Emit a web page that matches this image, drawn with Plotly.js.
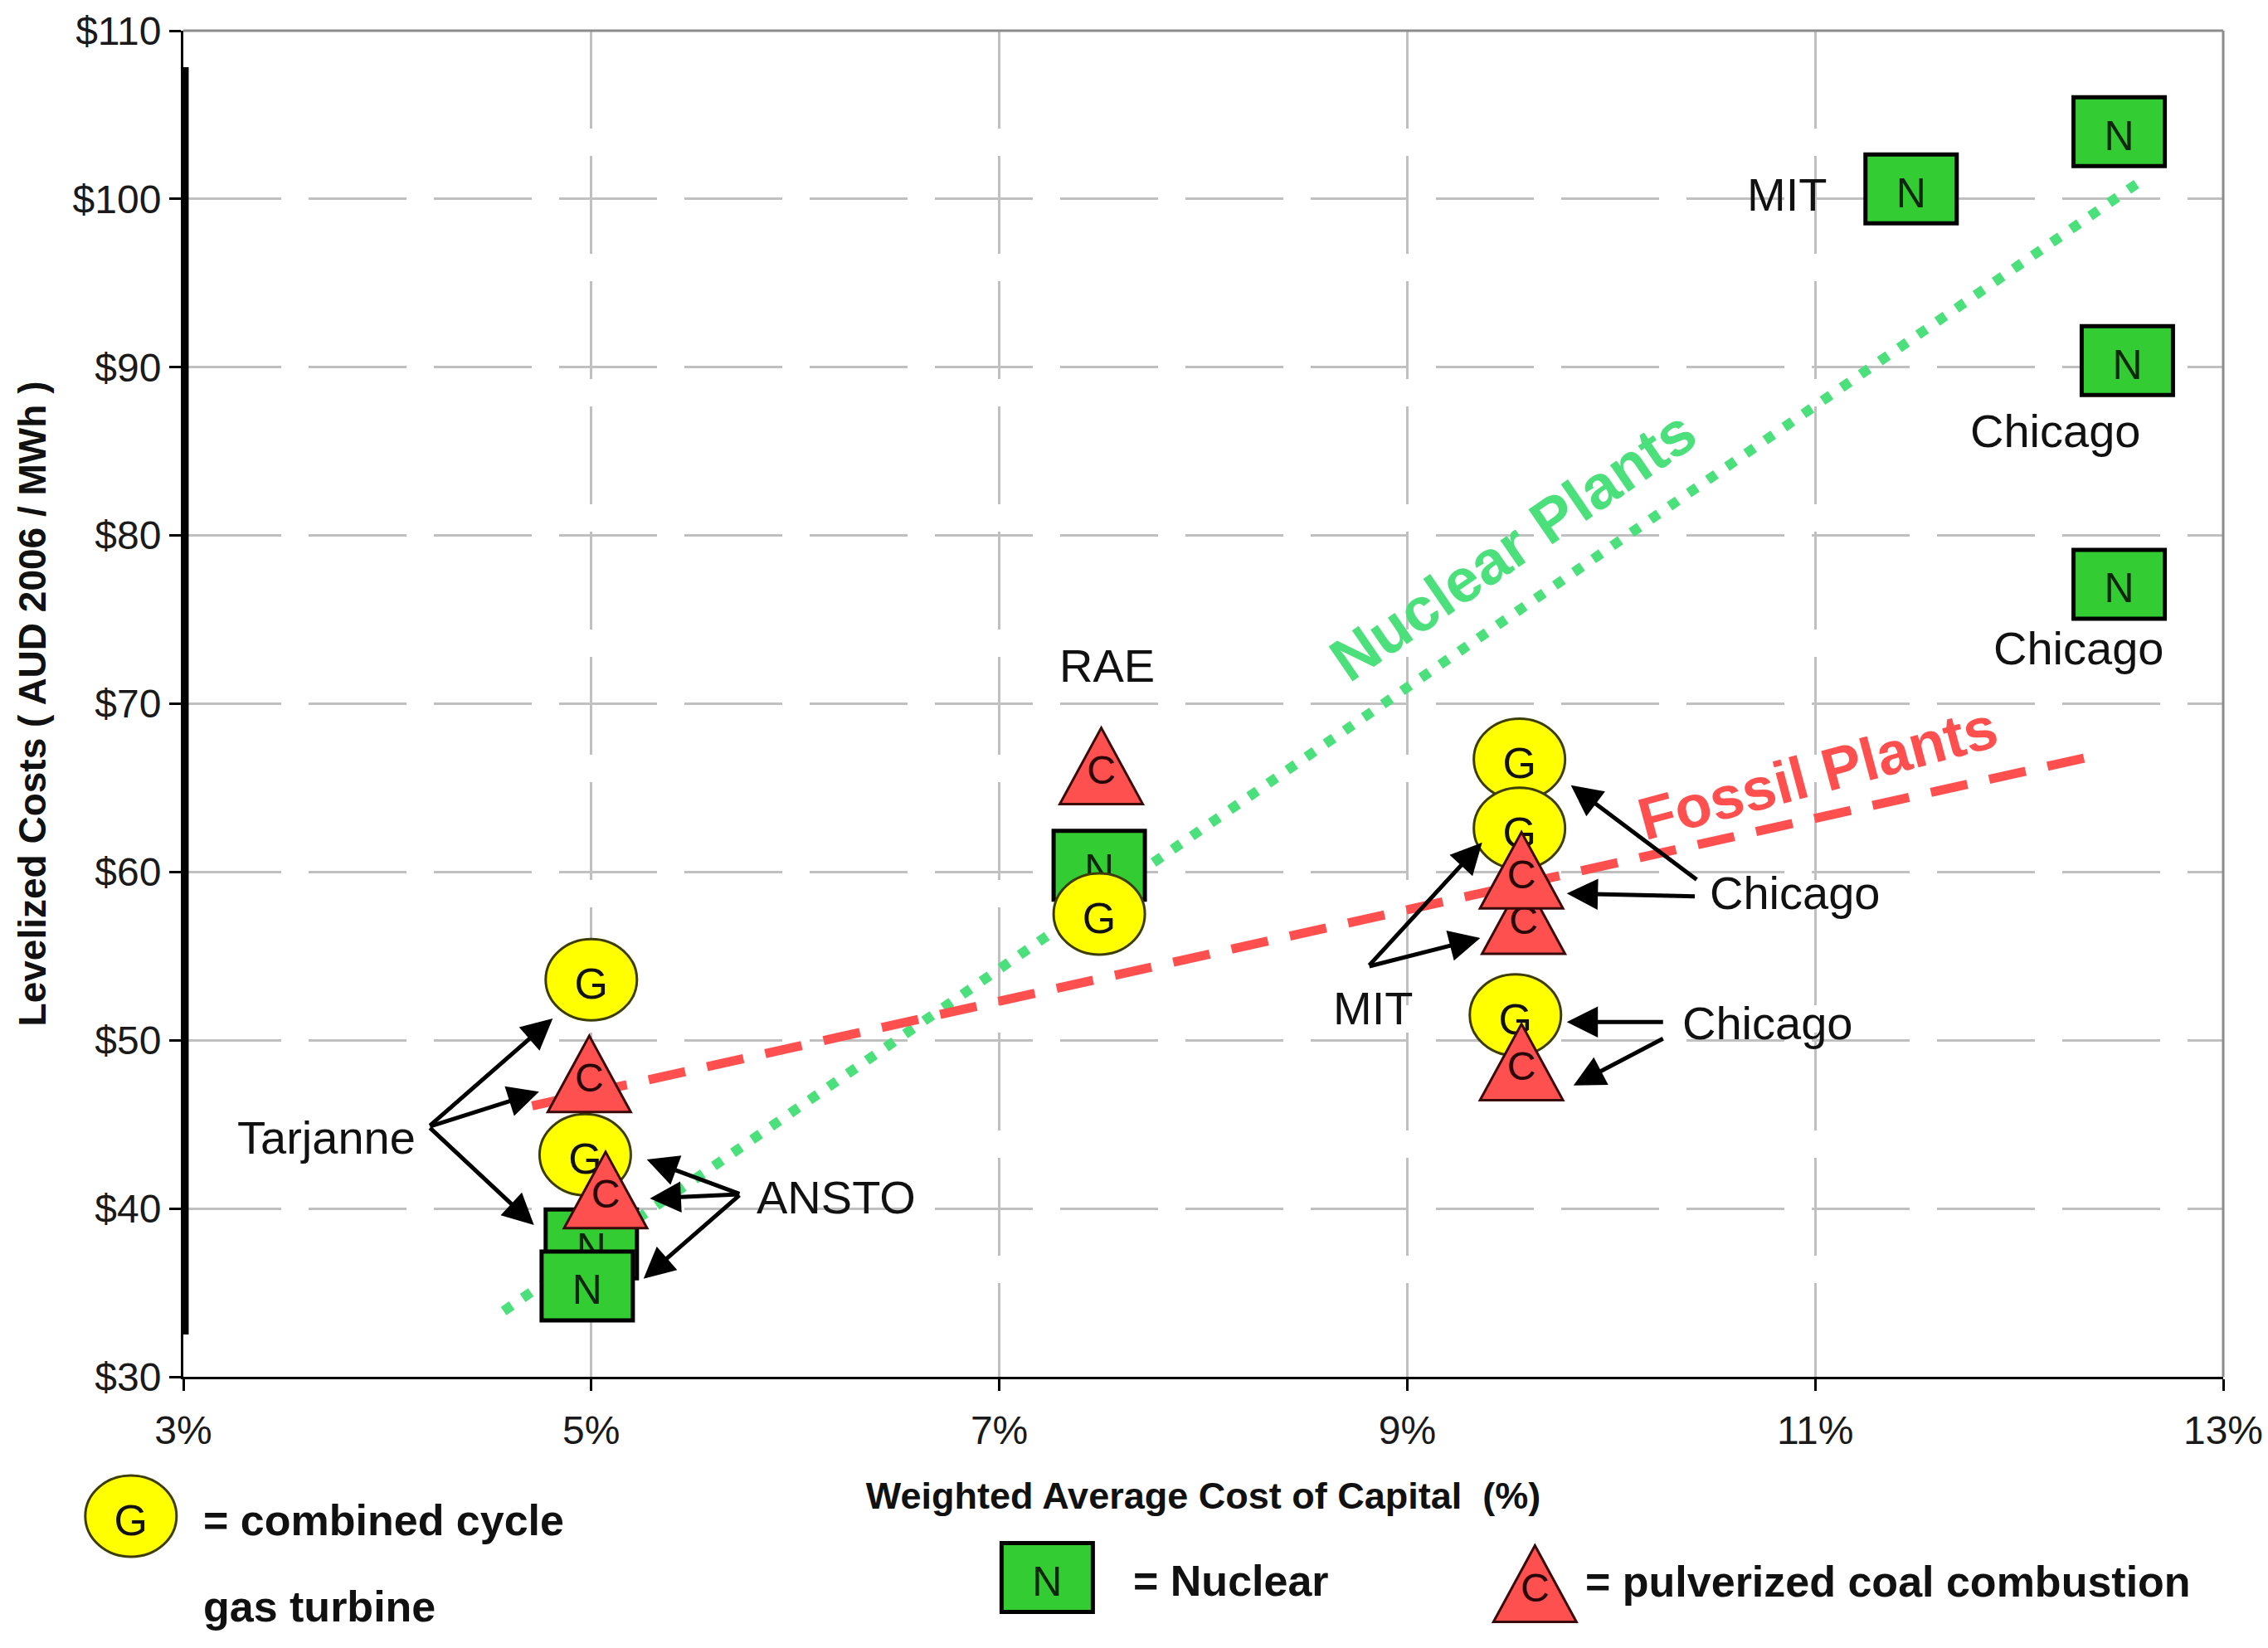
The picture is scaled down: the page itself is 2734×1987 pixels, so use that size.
<!DOCTYPE html>
<html><head><meta charset="utf-8">
<script src="https://cdn.plot.ly/plotly-3.0.1.min.js"></script>
<style>html,body{margin:0;padding:0;background:#fff;} #chart{width:2734px;height:1987px;}</style>
</head><body><div id="chart"></div>
<script>
// ---------------- data ----------------
// Combined cycle gas turbine (G)
const gasX = [5.00, 4.97, 7.49, 9.55, 9.55, 9.53];
const gasY = [53.6, 43.2, 57.5, 66.7, 62.6, 51.5];
// Nuclear (N)
const nucX = [5.00, 4.98, 7.49, 11.47, 12.49, 12.53, 12.49];
const nucY = [37.9, 35.4, 60.4, 100.6, 104.0, 90.4, 77.1];
// Pulverized coal combustion (C)
const coalX = [4.99, 5.07, 7.50, 9.57, 9.56, 9.56];
const coalY = [48.0, 41.1, 66.3, 57.4, 60.1, 48.7];
// Trend lines
const nuclearTrendX = [4.57, 12.60];
const nuclearTrendY = [33.9, 101.1];
const fossilTrendX = [4.71, 12.33];
const fossilTrendY = [46.1, 66.8];
// Axis ticks
const xTicks = [3, 5, 7, 9, 11, 13];
const xTickText = ['3%', '5%', '7%', '9%', '11%', '13%'];
const yTicks = [30, 40, 50, 60, 70, 80, 90, 100, 110];
const yTickText = ['$30', '$40', '$50', '$60', '$70', '$80', '$90', '$100', '$110'];
// Source labels
const sourceNames = ['Tarjanne', 'ANSTO', 'RAE', 'MIT', 'Chicago', 'Chicago', 'MIT', 'Chicago', 'Chicago'];
const sourceX = [3.701, 6.201, 7.529, 8.830, 10.898, 10.764, 10.860, 12.175, 12.290];
const sourceY = [44.2, 40.65, 72.25, 51.89, 58.75, 51.04, 100.25, 86.24, 73.3];
// Arrows from source labels to points
const arrowTailX = [4.203, 4.203, 4.203, 5.732, 5.732, 5.732, 8.808, 8.808, 10.425, 10.416, 10.26, 10.26];
const arrowTailY = [44.86, 44.86, 44.86, 40.85, 40.85, 40.85, 54.38, 54.38, 59.49, 58.55, 51.08, 50.14];
const arrowHeadX = [4.811, 4.744, 4.719, 5.272, 5.287, 5.256, 9.367, 9.358, 9.802, 9.782, 9.782, 9.815];
const arrowHeadY = [51.3, 46.94, 39.02, 42.92, 40.60, 35.83, 61.75, 56.08, 65.16, 58.72, 51.08, 47.31];
// Trend labels
const trendLabels = ['Nuclear Plants', 'Fossil Plants'];
const trendLabelX = [9.52, 11.01];
const trendLabelY = [79.4, 65.9];

// ---------------- styling ----------------
const FONT = 'Liberation Sans, Arial, Helvetica, sans-serif';
const GREEN_LINE = '#4be07b';
const RED_LINE = '#ff4f4f';
const N_FILL = '#33cc33';
const G_FILL = '#ffff00';
const C_FILL = '#ff5050';

function ellipsePath(rx, ry) {
  const k = 0.5523, kx = rx * k, ky = ry * k;
  return `M${rx},0 C${rx},${ky} ${kx},${ry} 0,${ry} C${-kx},${ry} ${-rx},${ky} ${-rx},0 ` +
         `C${-rx},${-ky} ${-kx},${-ry} 0,${-ry} C${kx},${-ry} ${rx},${-ky} ${rx},0 Z`;
}
function rectPath(w, h) { return `M${-w/2},${-h/2} H${w/2} V${h/2} H${-w/2} Z`; }
function triPath(w, h) { return `M${-w/2},${-h/2} L${w/2},${-h/2} L0,${h/2} Z`; }

function markerShape(kind, x, y, ref) {
  const base = {
    type: 'path', layer: 'above',
    xref: ref ? 'paper' : 'x', yref: ref ? 'paper' : 'y',
    xsizemode: 'pixel', ysizemode: 'pixel',
    xanchor: x, yanchor: y
  };
  if (kind === 'N') {
    return Object.assign(base, {
      path: rectPath(110, 83), fillcolor: N_FILL, line: {color: '#000', width: 5},
      label: {text: 'N', textposition: 'middle center', font: {family: FONT, size: 50, color: '#0d260d'}}
    });
  }
  if (kind === 'G') {
    return Object.assign(base, {
      path: ellipsePath(55, 49), fillcolor: G_FILL, line: {color: '#3d3d08', width: 3},
      label: {text: 'G', textposition: 'middle center', font: {family: FONT, size: 52, color: '#111'}}
    });
  }
  return Object.assign(base, {
    path: triPath(100, 92), fillcolor: C_FILL, line: {color: '#3a0a0a', width: 3},
    label: {text: 'C', textposition: 'middle center', font: {family: FONT, size: 48, color: '#2a0505'}}
  });
}

const shapes = [];
// thick left axis overlay and gray top/right frame
shapes.push({type: 'line', xref: 'paper', yref: 'paper', x0: 0.001, x1: 0.001, y0: 0.0314, y1: 0.9729,
             line: {color: '#000', width: 8}, layer: 'above'});
shapes.push({type: 'line', xref: 'paper', yref: 'paper', x0: 0, x1: 1, y0: 1, y1: 1,
             line: {color: '#8c8c8c', width: 3}, layer: 'above'});
shapes.push({type: 'line', xref: 'paper', yref: 'paper', x0: 1, x1: 1, y0: 0, y1: 1,
             line: {color: '#8c8c8c', width: 3}, layer: 'above'});
// data markers (draw order: nuclear, gas, coal)
nucX.forEach((x, i) => shapes.push(markerShape('N', x, nucY[i])));
gasX.forEach((x, i) => shapes.push(markerShape('G', x, gasY[i])));
coalX.forEach((x, i) => shapes.push(markerShape('C', x, coalY[i])));
// bottom legend symbols (paper coords)
shapes.push(markerShape('G', -0.0257, -0.1035, true));
shapes.push(markerShape('N', 0.4235, -0.1491, true));
shapes.push(markerShape('C', 0.6626, -0.1537, true));

const annotations = [];
sourceNames.forEach((t, i) => annotations.push({
  x: sourceX[i], y: sourceY[i], xref: 'x', yref: 'y', text: t, showarrow: false,
  xanchor: 'center', yanchor: 'middle', font: {family: FONT, size: 56, color: '#111'}
}));
arrowHeadX.forEach((x, i) => annotations.push({
  x: x, y: arrowHeadY[i], xref: 'x', yref: 'y', ax: arrowTailX[i], ay: arrowTailY[i],
  axref: 'x', ayref: 'y', text: '', showarrow: true, arrowhead: 2, arrowsize: 1.5,
  arrowwidth: 5, arrowcolor: '#000', standoff: 0, startstandoff: 0
}));
annotations.push({
  x: trendLabelX[0], y: trendLabelY[0], xref: 'x', yref: 'y', text: '<b>' + trendLabels[0] + '</b>',
  showarrow: false, textangle: -34.5, font: {family: FONT, size: 74, color: GREEN_LINE}
});
annotations.push({
  x: trendLabelX[1], y: trendLabelY[1], xref: 'x', yref: 'y', text: '<b>' + trendLabels[1] + '</b>',
  showarrow: false, textangle: -15, font: {family: FONT, size: 72, color: RED_LINE}
});
// legend texts
const legendFont = {family: FONT, size: 52, color: '#111'};
annotations.push({x: 0.0090, y: -0.1066, xref: 'paper', yref: 'paper', text: '<b>= combined cycle</b>',
  showarrow: false, xanchor: 'left', yanchor: 'middle', font: legendFont});
annotations.push({x: 0.0090, y: -0.1709, xref: 'paper', yref: 'paper', text: '<b>gas turbine</b>',
  showarrow: false, xanchor: 'left', yanchor: 'middle', font: legendFont});
annotations.push({x: 0.4648, y: -0.1515, xref: 'paper', yref: 'paper', text: '<b>= Nuclear</b>',
  showarrow: false, xanchor: 'left', yanchor: 'middle', font: legendFont});
annotations.push({x: 0.6863, y: -0.1521, xref: 'paper', yref: 'paper', text: '<b>= pulverized coal combustion</b>',
  showarrow: false, xanchor: 'left', yanchor: 'middle', font: legendFont});

const traces = [
  {x: nuclearTrendX, y: nuclearTrendY, type: 'scatter', mode: 'lines', name: 'Nuclear Plants',
   line: {color: GREEN_LINE, width: 12, dash: '12px,16px'}, hoverinfo: 'skip'},
  {x: fossilTrendX, y: fossilTrendY, type: 'scatter', mode: 'lines', name: 'Fossil Plants',
   line: {color: RED_LINE, width: 11, dash: '45px,27px'}, hoverinfo: 'skip'}
];

const axisCommon = {
  showgrid: true, gridcolor: '#c0c0c0', gridwidth: 3, griddash: '118px,33px',
  zeroline: false, showline: true, linecolor: '#000', linewidth: 3,
  ticks: 'outside', ticklen: 14, tickwidth: 3, tickcolor: '#000',
  tickfont: {family: FONT, size: 48, color: '#1a1a1a'}
};

const layout = {
  width: 2734, height: 1987,
  margin: {l: 221, r: 54, t: 37, b: 327, pad: 0},
  paper_bgcolor: '#ffffff', plot_bgcolor: '#ffffff',
  showlegend: false, hovermode: false,
  font: {family: FONT, color: '#111'},
  xaxis: Object.assign({}, axisCommon, {
    range: [3, 13], tickmode: 'array', tickvals: xTicks, ticktext: xTickText,
    ticklabelstandoff: 6,
    title: {text: '<b>Weighted Average Cost of Capital  (%)</b>', standoff: 38,
            font: {family: FONT, size: 45, color: '#111'}}
  }),
  yaxis: Object.assign({}, axisCommon, {
    range: [30, 110], tickmode: 'array', tickvals: yTicks, ticktext: yTickText,
    title: {text: '<b>Levelized Costs ( AUD 2006 / MWh )</b>', standoff: 18,
            font: {family: FONT, size: 46, color: '#111'}}
  }),
  shapes: shapes,
  annotations: annotations
};

Plotly.newPlot('chart', traces, layout, {staticPlot: true, displayModeBar: false});
</script>
</body></html>
